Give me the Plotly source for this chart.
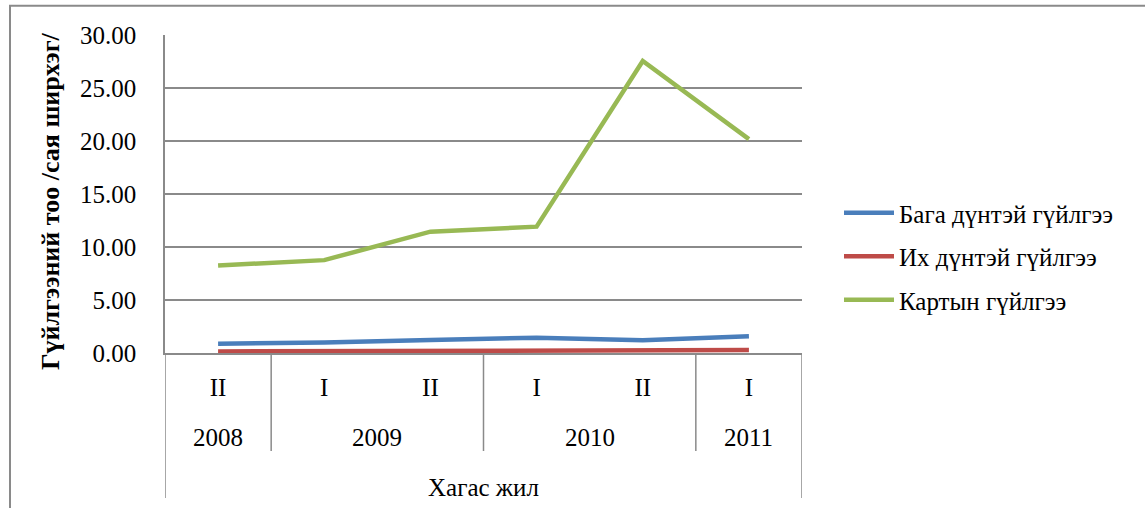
import plotly.graph_objects as go

# ---- data ----
half_labels = ["II", "I", "II", "I", "II", "I"]
years = ["2008", "2009", "2010", "2011"]
year_spans = [(0, 0), (1, 2), (3, 4), (5, 5)]  # index range of half-years in each year
series_names = ["Бага дүнтэй гүйлгээ", "Их дүнтэй гүйлгээ", "Картын гүйлгээ"]
small_tx = [0.88, 0.98, 1.22, 1.45, 1.20, 1.58]
large_tx = [0.15, 0.16, 0.18, 0.20, 0.24, 0.28]
card_tx = [8.25, 8.76, 11.45, 11.92, 27.55, 20.18]
colors = ["#4A7EBB", "#BE4B48", "#98B954"]
y_title = "Гүйлгээний тоо /сая ширхэг/"
x_title = "Хагас жил"

FONT = "Liberation Serif"
FS = 25
GRID = "#8a8a8a"

x_idx = list(range(len(half_labels)))

fig = go.Figure()
for i, (name, vals) in enumerate(zip(series_names, [small_tx, large_tx, card_tx])):
    fig.add_trace(go.Scatter(
        x=x_idx, y=vals, name=name, mode="lines",
        line=dict(color=colors[i], width=4.5),
        legendgroup=str(i),
    ))

# plot area geometry (pixels)
W, H = 1145, 508
L, R, T, B = 165, 343, 35, 155
pw = W - L - R
ph = H - T - B

def py(pix):  # pixel y -> paper y
    return (H - B - pix) / ph

def px(pix):  # pixel x -> paper x
    return (pix - L) / pw

shapes = []
n = len(half_labels)
# year dividers
for (a, b) in year_spans[:-1]:
    shapes.append(dict(type="line", xref="x", yref="paper", x0=b + 0.5, x1=b + 0.5,
                       y0=0, y1=py(451), line=dict(color=GRID, width=1.5)))
# edge lines
for xe in (-0.5, n - 0.5):
    shapes.append(dict(type="line", xref="x", yref="paper", x0=xe, x1=xe,
                       y0=0, y1=py(498), line=dict(color=GRID, width=1.5)))
# outer chart border
shapes.append(dict(type="rect", xref="paper", yref="paper",
                   x0=px(10), x1=px(1300), y0=py(700), y1=py(5.7),
                   line=dict(color=GRID, width=2), layer="below"))

annotations = []
for yr, (a, b) in zip(years, year_spans):
    annotations.append(dict(text=yr, xref="x", yref="paper", x=(a + b) / 2, y=py(437),
                            showarrow=False, font=dict(family=FONT, size=FS, color="black"),
                            xanchor="center", yanchor="middle"))
annotations.append(dict(text=x_title, xref="paper", yref="paper", x=0.5, y=py(487),
                        showarrow=False, font=dict(family=FONT, size=FS, color="black"),
                        xanchor="center", yanchor="middle"))
annotations.append(dict(text="<b>" + y_title + "</b>", xref="paper", yref="paper",
                        x=px(50), y=py(202), textangle=-90, showarrow=False,
                        font=dict(family=FONT, size=26, color="black"),
                        xanchor="center", yanchor="middle"))

fig.update_layout(
    width=W, height=H,
    margin=dict(l=L, r=R, t=T, b=B, autoexpand=False),
    paper_bgcolor="white", plot_bgcolor="white",
    font=dict(family=FONT, size=FS, color="black"),
    showlegend=True,
    legend=dict(x=px(839), y=py(190), xanchor="left", yanchor="top",
                itemwidth=50, tracegroupgap=8,
                font=dict(family=FONT, size=FS, color="black"),
                bgcolor="rgba(0,0,0,0)"),
    shapes=shapes,
    annotations=annotations,
    xaxis=dict(range=[-0.5, n - 0.5], tickvals=x_idx, ticktext=half_labels,
               showgrid=False, zeroline=False, showline=True, linecolor=GRID, linewidth=1.5,
               ticks="", ticklabelstandoff=11, tickfont=dict(family=FONT, size=FS),
               fixedrange=True),
    yaxis=dict(range=[0, 30], dtick=5, tick0=0, tickformat=".2f",
               showgrid=True, gridcolor=GRID, gridwidth=1.5, zeroline=False,
               showline=True, linecolor=GRID, linewidth=1.5, ticks="",
               ticklabelstandoff=22, tickfont=dict(family=FONT, size=FS),
               fixedrange=True),
)

fig.write_html("out.html", config={"displayModeBar": False},
               post_script="document.body.style.margin='0';document.body.style.overflow='hidden';")
